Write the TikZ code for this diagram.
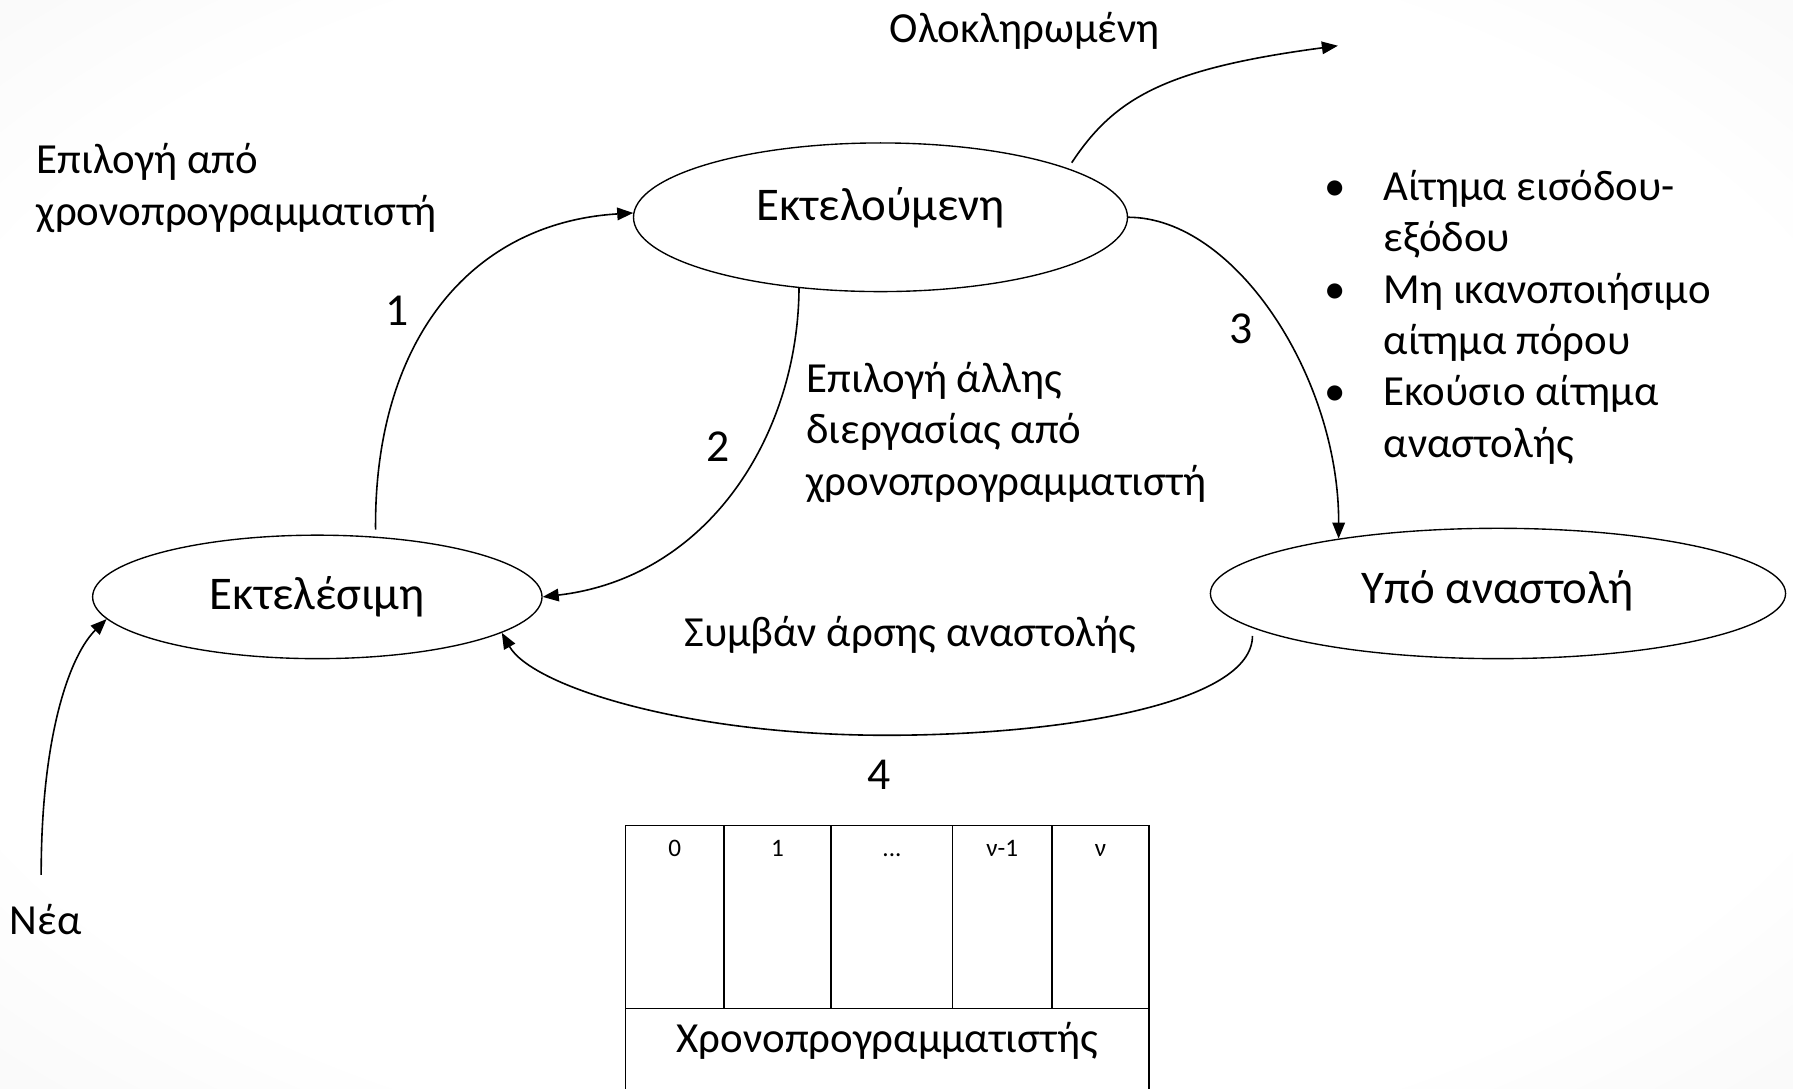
\documentclass[tikz,border=0pt]{standalone}
\usepackage{fontspec}
\setmainfont{Carlito}
\usetikzlibrary{arrows.meta,shapes.geometric}
% soft slide background: white centre fading to light grey at the edges
\pgfdeclareradialshading{slidebg}{\pgfpoint{0bp}{0bp}}{color(0bp)=(white); color(28bp)=(white); color(52bp)=(black!7); color(71bp)=(black!13)}

\begin{document}
\begin{tikzpicture}[x=1pt,y=-1pt,
  state/.style={draw, ellipse, line width=1.2pt, inner sep=0pt},
  statetxt/.style={font=\fontsize{41}{45}\selectfont, inner sep=0pt},
  txt/.style={font=\fontsize{37.5}{45}\selectfont, inner sep=0pt},
  num/.style={font=\fontsize{40}{45}\selectfont, inner sep=0pt},
  small/.style={font=\fontsize{22}{26}\selectfont, inner sep=0pt},
  flow/.style={-{Triangle[length=14pt,width=11pt]}, line width=1.4pt},
  grid/.style={line width=1.5pt}]

% page
\useasboundingbox (0,0) rectangle (1568,952);
\clip (0,0) rectangle (1568,952);
\shade[shading=slidebg] (0,0) rectangle (1568,952);

% states
\node[state, minimum width=432pt, minimum height=130pt] (run) at (770,190) {};
\node[state, minimum width=393pt, minimum height=108pt] (ready) at (277.5,522) {};
\node[state, minimum width=503pt, minimum height=114pt] (susp) at (1310,519) {};
\node[statetxt, anchor=base] (runlbl) at (770,193) {Εκτελούμενη};
\node[statetxt, anchor=base] (readylbl) at (277.5,533) {Εκτελέσιμη};
\node[statetxt, anchor=base] (susplbl) at (1310,528) {Υπό αναστολή};

% free ends
\coordinate (done) at (1170,40);
\coordinate (newin) at (36,765);

% transitions
\draw[flow] ([yshift=6pt]ready.46.6) .. controls (327,300) and (410,195) .. (run.179);
\draw[flow] (run.221.5) .. controls (698,380) and (620,505) .. (ready.east);
\draw[flow] (run.east) .. controls (1080,190) and (1171,330) .. (susp.161);
\draw[flow] ([yshift=-7pt]susp.188.2) .. controls (1095,615) and (930,643) .. (775,643)
            .. controls (600,643) and (465,600) .. (ready.-11.5);
\draw[flow] ([yshift=6pt]run.14.5) .. controls (975,85) and (1020,60) .. (done);
\draw[flow] (newin) .. controls (36,640) and (62,572) .. (ready.186);

% transition labels
\node[txt, anchor=base] (donelbl) at (896,37) {Ολοκληρωμένη};
\node[txt, anchor=base] (newlbl) at (40,817) {Νέα};
\node[txt, anchor=base west] (sel) at (32,152)
  {\begin{tabular}[t]{@{}l@{}}Επιλογή από\\χρονοπρογραμματιστή\end{tabular}};
\node[txt, anchor=base west] (other) at (705,343)
  {\begin{tabular}[t]{@{}l@{}}Επιλογή άλλης\\διεργασίας από\\χρονοπρογραμματιστή\end{tabular}};
\node[txt, anchor=base] (wake) at (796,565) {Συμβάν άρσης αναστολής};
\node[txt, anchor=base west] (why) at (1158,175)
  {\begin{tabular}[t]{@{}l@{}l@{}}
   \makebox[52pt][l]{•} & Αίτημα εισόδου-\\
                        & εξόδου\\
   \makebox[52pt][l]{•} & Μη ικανοποιήσιμο\\
                        & αίτημα πόρου\\
   \makebox[52pt][l]{•} & Εκούσιο αίτημα\\
                        & αναστολής
   \end{tabular}};
\node[num, anchor=base] (n1) at (347,285) {1};
\node[num, anchor=base] (n2) at (628,404) {2};
\node[num, anchor=base] (n3) at (1085,300) {3};
\node[num, anchor=base] (n4) at (769,690) {4};

% scheduler queue
\draw[grid, fill=white] (547,722) rectangle (1005,960);
\draw[grid] (547,882) -- (1005,882);
\foreach \x in {633,727,833,920} \draw[grid] (\x,722) -- (\x,882);
\node[small, anchor=base] (q0) at (590,749) {0};
\node[small, anchor=base] (q1) at (680,749) {1};
\node[small, anchor=base] (qd) at (780,749) {...};
\node[small, anchor=base] (qn1) at (876.5,749) {ν-1};
\node[small, anchor=base] (qn) at (962.5,749) {ν};
\node[txt, anchor=base] (sched) at (776,920) {Χρονοπρογραμματιστής};
\end{tikzpicture}
\end{document}
